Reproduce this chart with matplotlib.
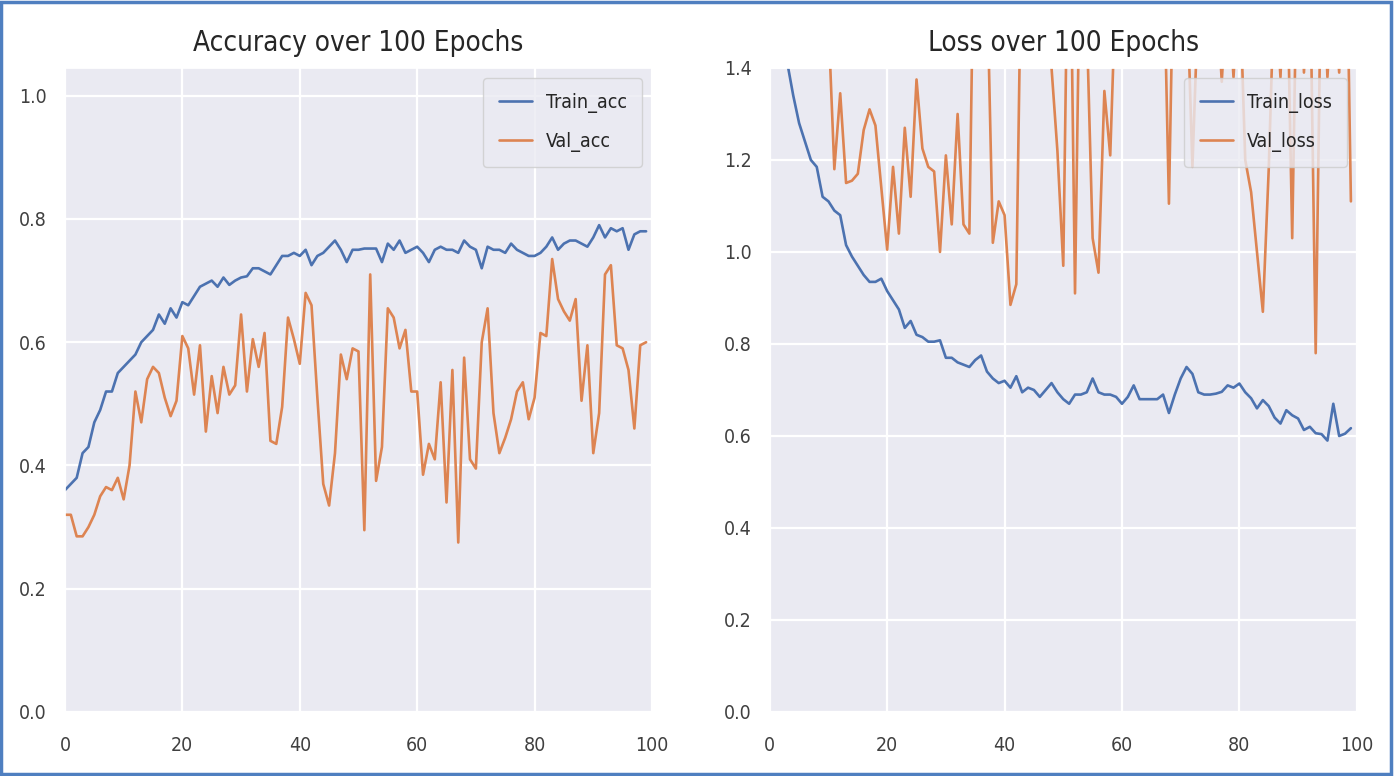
import numpy as np
import matplotlib
matplotlib.use("Agg")
import matplotlib.pyplot as plt
from matplotlib.patches import Rectangle
import seaborn as sns

# Andmed (loetud pildilt)
train_acc = [0.36, 0.37, 0.38, 0.42, 0.43, 0.47, 0.49, 0.52, 0.52, 0.55,
             0.56, 0.57, 0.58, 0.60, 0.61, 0.62, 0.645, 0.63, 0.655, 0.64,
             0.665, 0.66, 0.675, 0.69, 0.695, 0.70, 0.69, 0.705, 0.693, 0.70,
             0.705, 0.707, 0.72, 0.72, 0.715, 0.71, 0.725, 0.74, 0.74, 0.745,
             0.74, 0.75, 0.725, 0.74, 0.745, 0.755, 0.765, 0.75, 0.73, 0.75,
             0.75, 0.752, 0.752, 0.752, 0.73, 0.76, 0.75, 0.765, 0.745, 0.75,
             0.755, 0.745, 0.73, 0.75, 0.755, 0.75, 0.75, 0.745, 0.765, 0.755,
             0.75, 0.72, 0.755, 0.75, 0.75, 0.745, 0.76, 0.75, 0.745, 0.74,
             0.74, 0.745, 0.755, 0.77, 0.75, 0.76, 0.765, 0.765, 0.76, 0.755,
             0.77, 0.79, 0.77, 0.785, 0.78, 0.785, 0.75, 0.775, 0.78, 0.78]

val_acc = [0.32, 0.32, 0.285, 0.285, 0.30, 0.32, 0.35, 0.365, 0.36, 0.38,
           0.345, 0.40, 0.52, 0.47, 0.54, 0.56, 0.55, 0.51, 0.48, 0.505,
           0.61, 0.59, 0.515, 0.595, 0.455, 0.545, 0.485, 0.56, 0.515, 0.53,
           0.645, 0.52, 0.605, 0.56, 0.615, 0.44, 0.435, 0.495, 0.64, 0.605,
           0.565, 0.68, 0.66, 0.51, 0.37, 0.335, 0.42, 0.58, 0.54, 0.59,
           0.585, 0.295, 0.71, 0.375, 0.43, 0.655, 0.64, 0.59, 0.62, 0.52,
           0.52, 0.385, 0.435, 0.41, 0.535, 0.34, 0.555, 0.275, 0.575, 0.41,
           0.395, 0.60, 0.655, 0.485, 0.42, 0.445, 0.475, 0.52, 0.535, 0.475,
           0.51, 0.615, 0.61, 0.735, 0.67, 0.65, 0.635, 0.67, 0.505, 0.595,
           0.42, 0.485, 0.71, 0.725, 0.595, 0.59, 0.555, 0.46, 0.595, 0.60]

train_loss = [2.05, 1.72, 1.53, 1.41, 1.34, 1.28, 1.24, 1.20, 1.185, 1.12,
              1.11, 1.09, 1.08, 1.015, 0.99, 0.97, 0.95, 0.935, 0.935, 0.942,
              0.915, 0.895, 0.875, 0.835, 0.85, 0.82, 0.815, 0.805, 0.805, 0.808,
              0.77, 0.77, 0.76, 0.755, 0.75, 0.765, 0.775, 0.74, 0.725, 0.715,
              0.72, 0.705, 0.73, 0.695, 0.705, 0.70, 0.685, 0.70, 0.715, 0.695,
              0.68, 0.67, 0.69, 0.69, 0.695, 0.725, 0.695, 0.69, 0.69, 0.685,
              0.67, 0.685, 0.71, 0.68, 0.68, 0.68, 0.68, 0.69, 0.65, 0.69,
              0.725, 0.75, 0.735, 0.695, 0.69, 0.69, 0.692, 0.696, 0.71, 0.705,
              0.714, 0.695, 0.682, 0.66, 0.678, 0.665, 0.64, 0.627, 0.656, 0.645,
              0.638, 0.613, 0.62, 0.606, 0.604, 0.59, 0.67, 0.60, 0.605, 0.617]

val_loss = [1.95, 1.85, 1.78, 1.72, 1.66, 1.62, 1.60, 1.58, 1.55, 1.52,
            1.50, 1.18, 1.345, 1.15, 1.155, 1.17, 1.265, 1.31, 1.275, 1.14,
            1.005, 1.185, 1.04, 1.27, 1.12, 1.375, 1.225, 1.185, 1.175, 1.0,
            1.21, 1.06, 1.30, 1.06, 1.04, 1.9, 1.8, 1.6, 1.02, 1.11,
            1.08, 0.885, 0.93, 1.8, 2.0, 1.9, 1.7, 1.5, 1.40, 1.22,
            0.97, 1.9, 0.91, 1.8, 1.5, 1.03, 0.955, 1.35, 1.21, 1.6,
            1.8, 2.0, 1.9, 1.7, 1.8, 2.1, 1.9, 1.7, 1.105, 1.8,
            1.9, 1.6, 1.185, 1.55, 1.7, 1.45, 1.6, 1.37, 1.6, 1.38,
            1.6, 1.2, 1.13, 1.0, 0.87, 1.18, 1.6, 1.38, 1.7, 1.03,
            1.8, 1.39, 1.65, 0.78, 1.7, 1.38, 1.6, 1.39, 1.9, 1.11]

epochs = np.arange(len(train_acc))

# Stiil: seaborn darkgrid + kitsas DejaVu
sns.set_theme(style="darkgrid")
plt.rcParams["font.family"] = ["DejaVu Sans"]
plt.rcParams["font.stretch"] = "condensed"

blue = "#4C72B0"
orange = "#DD8452"

fig = plt.figure(figsize=(13.94, 7.76), dpi=100)
fig.patch.set_facecolor("white")

ax1 = fig.add_axes([0.0466, 0.0825, 0.4211, 0.8299])
ax2 = fig.add_axes([0.5522, 0.0825, 0.4211, 0.8299])

ax1.plot(epochs, train_acc, color=blue, lw=1.9, label="Train_acc")
ax1.plot(epochs, val_acc, color=orange, lw=1.9, label="Val_acc")
ax1.set_title("Accuracy over 100 Epochs", fontsize=20, pad=12, color="#262626")
ax1.set_xlim(0, 100)
ax1.set_ylim(0, 1.045)
ax1.set_yticks([0.0, 0.2, 0.4, 0.6, 0.8, 1.0])

ax2.plot(epochs, train_loss, color=blue, lw=1.9, label="Train_loss")
ax2.plot(epochs, val_loss, color=orange, lw=1.9, label="Val_loss")
ax2.set_title("Loss over 100 Epochs", fontsize=20, pad=12, color="#262626")
ax2.set_xlim(0, 100)
ax2.set_ylim(0, 1.4)
ax2.set_yticks([0.0, 0.2, 0.4, 0.6, 0.8, 1.0, 1.2, 1.4])

for ax in (ax1, ax2):
    ax.set_xticks([0, 20, 40, 60, 80, 100])
    ax.tick_params(axis="x", labelsize=14, pad=11, colors="#404040")
    ax.tick_params(axis="y", labelsize=14, pad=7, colors="#404040")
    ax.grid(color="white", linewidth=1.6)
    ax.legend(loc="upper right", fontsize=14, handlelength=1.7,
              handletextpad=0.7, borderpad=0.8, labelspacing=0.95)

# Sinine raam ümber pildi
fig.patches.append(Rectangle((0.001, 0.002), 0.997, 0.995, transform=fig.transFigure,
                             fill=False, edgecolor="#4F7FC0", linewidth=2.5))

plt.savefig("out.png", dpi=100)
plt.close()
